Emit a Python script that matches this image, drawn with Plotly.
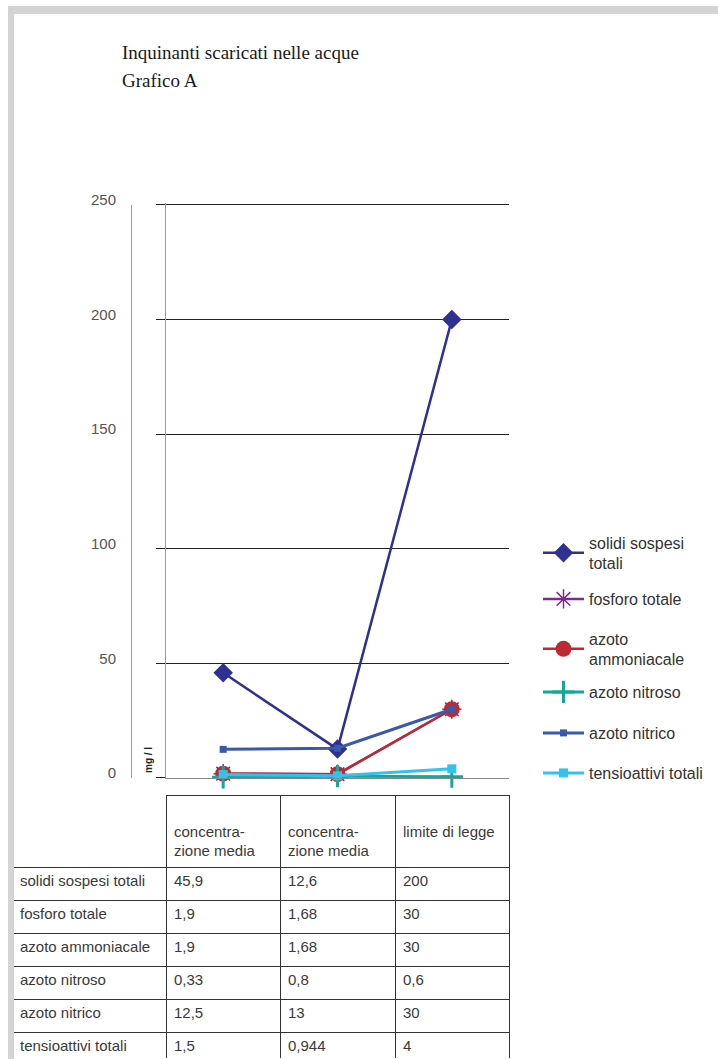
import plotly.graph_objects as go

W, H = 718, 1059

# ---------------- data ----------------
categories = ["concentra-<br>zione media", "concentra-<br>zione media", "limite di legge"]
series_names = ["solidi sospesi totali", "fosforo totale", "azoto ammoniacale",
                "azoto nitroso", "azoto nitrico", "tensioattivi totali"]
legend_labels = ["solidi sospesi<br>totali", "fosforo totale", "azoto<br>ammoniacale",
                 "azoto nitroso", "azoto nitrico", "tensioattivi totali"]

solidi_sospesi = [45.9, 12.6, 200]
fosforo_totale = [1.9, 1.68, 30]
azoto_ammoniacale = [1.9, 1.68, 30]
azoto_nitroso = [0.33, 0.8, 0.6]
azoto_nitrico = [12.5, 13, 30]
tensioattivi = [1.5, 0.944, 4]

y_ticks = [0, 50, 100, 150, 200, 250]

series_values = [solidi_sospesi, fosforo_totale, azoto_ammoniacale,
                 azoto_nitroso, azoto_nitrico, tensioattivi]

# ---------------- styles ----------------
styles = [
    dict(color="#2E3192", symbol="diamond", size=15, lw=2.5, mlw=0),
    dict(color="#7B2C8E", symbol="asterisk-open", size=16, lw=2.5, mlw=1.5),
    dict(color="#BE2A32", symbol="circle", size=16, lw=2.5, mlw=0),
    dict(color="#14A89A", symbol="cross-thin-open", size=16, lw=3, mlw=3),
    dict(color="#3A5AA8", symbol="square", size=7, lw=3, mlw=0),
    dict(color="#33C2EE", symbol="square", size=9, lw=3, mlw=0),
]
legend_centers_px = [553, 599, 649, 692, 733, 773]

def px_x(p):
    return p / W

def px_y(p):
    return 1 - p / H

fig = go.Figure()
xs = list(range(len(categories)))
legend_ids = ["legend"] + [f"legend{i}" for i in range(2, len(series_names) + 1)]
for name, lab, vals, st, lid in zip(series_names, legend_labels, series_values, styles, legend_ids):
    fig.add_trace(go.Scatter(
        x=xs, y=vals, name=lab, mode="lines+markers",
        legend=lid,
        line=dict(color=st["color"], width=st["lw"]),
        marker=dict(symbol=st["symbol"], size=st["size"], color=st["color"],
                    line=dict(color=st["color"], width=st["mlw"])),
        cliponaxis=False, hoverinfo="skip",
    ))

def fmt(v):
    return f"{v:g}".replace(".", ",")

table_cols = [series_names] + [[fmt(vals[i]) for vals in series_values] for i in range(len(categories))]

fig.add_trace(go.Table(
    domain=dict(x=[px_x(12), px_x(509)], y=[0, px_y(795)]),
    columnwidth=[154, 114, 115, 114],
    header=dict(values=[""] + ["\u00a0<br>" + c for c in categories],
                height=65, align="left",
                fill=dict(color="white"),
                line=dict(color=["rgba(0,0,0,0)", "#333", "#333", "#333"], width=1),
                font=dict(family="Liberation Sans, Arial, sans-serif", size=15, color="#3a3a3a")),
    cells=dict(values=table_cols, height=33, align="left",
               fill=dict(color="white"),
               line=dict(color="#333", width=1),
               font=dict(family="Liberation Sans, Arial, sans-serif", size=15, color="#3a3a3a")),
))

# y scale: 0 at 778 px, 250 at 205 px; range slightly above 250 so the top gridline shows
px_per_unit = (778 - 205) / 250
y_max = 251
y_top_px = 778 - px_per_unit * y_max

legend_font = dict(family="Liberation Sans, Arial, sans-serif", size=16, color="#333")
legend_layouts = {}
for lid, cy in zip(legend_ids, legend_centers_px):
    legend_layouts[lid] = dict(x=px_x(538), y=px_y(cy), xanchor="left", yanchor="middle",
                               font=legend_font, itemwidth=41, valign="middle",
                               bgcolor="rgba(0,0,0,0)", borderwidth=0)

fig.update_layout(
    width=W, height=H, autosize=False,
    margin=dict(l=0, r=0, t=0, b=0, pad=0, autoexpand=False),
    paper_bgcolor="white", plot_bgcolor="white",
    showlegend=True,
    xaxis=dict(domain=[px_x(166), px_x(509)], range=[-0.5, 2.5],
               showgrid=False, zeroline=False, showticklabels=False, ticks="",
               showline=True, linecolor="#888", linewidth=1, fixedrange=True),
    yaxis=dict(domain=[px_y(778), px_y(y_top_px)], range=[0, y_max],
               tickvals=y_ticks, ticks="outside", ticklen=9, tickcolor="#222", tickwidth=1,
               showgrid=True, gridcolor="#222", gridwidth=1, zeroline=False,
               showline=True, linecolor="#999", linewidth=1,
               ticklabelstandoff=37, ticklabelshift=-5,
               tickfont=dict(family="Liberation Sans, Arial, sans-serif", size=15, color="#555"),
               fixedrange=True),
    annotations=[
        dict(text="Inquinanti scaricati nelle acque", x=px_x(120), y=px_y(52),
             xref="paper", yref="paper", xanchor="left", yanchor="middle", showarrow=False,
             font=dict(family="Liberation Serif, Times New Roman, serif", size=19, color="#1a1a1a")),
        dict(text="Grafico A", x=px_x(120), y=px_y(80),
             xref="paper", yref="paper", xanchor="left", yanchor="middle", showarrow=False,
             font=dict(family="Liberation Serif, Times New Roman, serif", size=19, color="#1a1a1a")),
        dict(text="<b>mg / l</b>", x=px_x(148), y=px_y(760), textangle=-90,
             xref="paper", yref="paper", xanchor="center", yanchor="middle", showarrow=False,
             font=dict(family="Liberation Sans, Arial, sans-serif", size=10, color="#222")),
    ],
    shapes=[
        dict(type="line", xref="paper", yref="y", x0=px_x(131.5), x1=px_x(131.5), y0=0, y1=250,
             line=dict(color="#999", width=1), layer="above"),
        dict(type="rect", xref="paper", yref="paper", x0=px_x(9), x1=1, y0=px_y(14), y1=px_y(6),
             fillcolor="#d4d4d4", line=dict(width=0), layer="above"),
        dict(type="rect", xref="paper", yref="paper", x0=px_x(8), x1=px_x(14), y0=0, y1=px_y(6),
             fillcolor="#d4d4d4", line=dict(width=0), layer="above"),
    ],
    **legend_layouts,
)

fig.write_html("out.html", config=dict(displayModeBar=False, staticPlot=True))
